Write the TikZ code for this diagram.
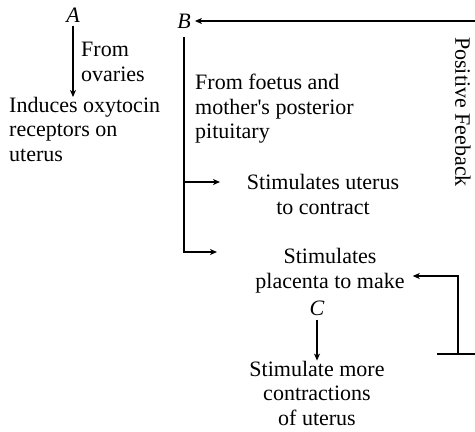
\documentclass[tikz,border=0pt]{standalone}
\usepackage{fontspec}
\setmainfont{Liberation Serif}
\usepackage{tikz}
\usetikzlibrary{arrows.meta,calc,positioning}

\begin{document}
\begin{tikzpicture}[x=1pt,y=-1pt,
	txt/.style={inner sep=0pt,font=\fontsize{22}{24.5}\selectfont},
	lett/.style={inner sep=4pt,font=\fontsize{22}{24.5}\selectfont\itshape},
	ln/.style={line width=1.5pt},
	arr/.style={line width=1.5pt,-{Stealth[length=7pt,width=6pt,inset=2pt]}}]
	\useasboundingbox (0,0) rectangle (475,432);
	
	\node[lett] (A) at (73,15) {A};
	\node[txt,anchor=west,align=left] (ov) at (81,62) {From\\ovaries};
	\node[txt,anchor=north west,align=left] (ind) at (9,97) {Induces oxytocin\\receptors on\\uterus};
	\draw[arr] (A.south) -- (A.south |- ind.north);
	
	\node[lett] (B) at (184,21) {B};
	\node[txt,anchor=north west,align=left] (foet) at (195,74) {From foetus and\\mother\textquotesingle s posterior\\pituitary};
	\node[txt,align=center] (ute) at (323,194.5) {Stimulates uterus\\to contract};
	\node[txt,align=center] (pla) at (330,270.5) {Stimulates\\placenta to make};
	\node[lett] (C) at (317,308) {C};
	\node[txt,align=center] (more) at (317,393) {Stimulate more\\contractions\\of uterus};
	\node[txt,rotate=-90] (fbk) at (463,112) {Positive Feeback};
	
	\coordinate (tr) at (475,21);
	\coordinate (u1) at (220,182);
	\coordinate (p1) at (217,252);
	\draw[arr] (tr) -- (B.east);
	\draw[arr,shorten <=5pt] (B.south) |- (u1);
	\draw[arr,shorten <=5pt] (B.south) |- (p1);
	\draw[arr] (C.south) -- (C.south |- more.north);
	
	% feedback from the contractions back to the placenta
	\coordinate (f1) at (437,354);
	\coordinate (f2) at (475,354);
	\coordinate (f3) at (458,354);
	\coordinate (f4) at (458,276);
	\draw[ln] (f1) -- (f2);
	\draw[arr] (f3) -- (f4) -- ($(pla.east |- f4)+(8,0)$);
\end{tikzpicture}
\end{document}
